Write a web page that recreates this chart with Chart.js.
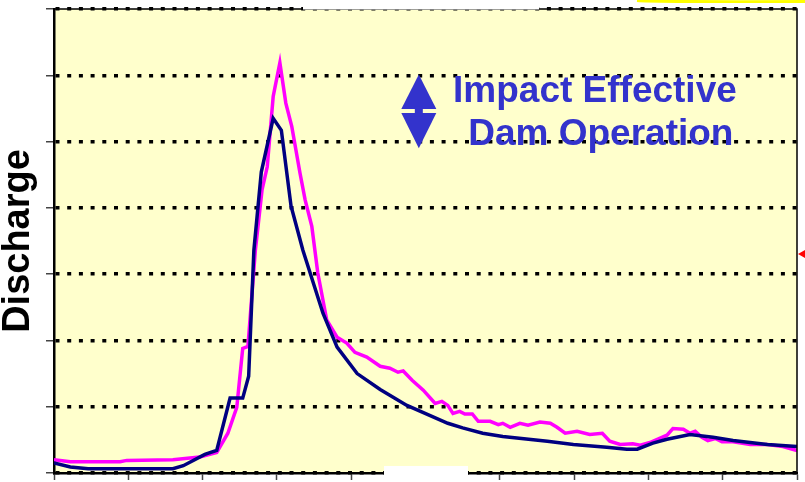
<!DOCTYPE html>
<html>
<head>
<meta charset="utf-8">
<script src="https://cdn.jsdelivr.net/npm/chart.js@4.4.1/dist/chart.umd.min.js"></script>
<style>
  html, body { margin: 0; padding: 0; background: #ffffff; }
  #wrap { width: 805px; height: 482px; position: relative; }
</style>
</head>
<body>
<div id="wrap"><canvas id="discharge"></canvas></div>
<script>
// days along the hydrograph (x axis 0..100), discharge in grid units (0..7)
const xTicks = [0, 10, 20, 30, 40, 50, 60, 70, 80, 90, 100];
const yTicks = [0, 1, 2, 3, 4, 5, 6, 7];

const regulatedX = [0, 2.2, 4.6, 16, 17.4, 20.3, 21.9, 23.7, 25.4, 26.2, 26.9, 27.9, 29.5, 30.6, 31.9,
  33.5, 36.2, 38.1, 40.8, 43.9, 47.5, 53, 55, 57.7, 60.4, 66.4, 69.9, 74.4, 77.1, 78.5, 80.6,
  82.5, 85.6, 88.7, 91.4, 96, 100];
const regulatedY = [0.15, 0.09, 0.066, 0.066, 0.11, 0.28, 0.34, 1.13, 1.13, 1.46, 3.36, 4.54, 5.35, 5.17, 4.03,
  3.36, 2.41, 1.9, 1.5, 1.26, 1.02, 0.75, 0.68, 0.6, 0.55, 0.48, 0.43, 0.39, 0.36, 0.36, 0.45,
  0.51, 0.58, 0.54, 0.49, 0.43, 0.4];

const naturalX = [0, 2.2, 8.9, 9.8, 16, 19.6, 21.9, 23.4, 24.6, 25.4, 26.1, 27.1, 28, 28.7, 29.5, 30.4,
  31.2, 32, 33.1, 33.8, 34.7, 35.5, 36.7, 38.1, 39.4, 40.5, 42.1, 43.9, 45.2, 46.3, 47, 48.2,
  49.7, 51.3, 52.2, 53, 53.7, 54.6, 55.3, 56.3, 57.1, 58.7, 59.8, 60.4, 61.4, 62.7, 63.8, 65.4,
  66.8, 67.7, 68.8, 70.4, 72.1, 73.8, 74.8, 76.2, 77.9, 78.9, 80.2, 82.5, 83.3, 84.7, 85.6, 86.3,
  87.2, 88, 89, 89.9, 91.4, 93.7, 96, 98.1, 100];
const naturalY = [0.2, 0.17, 0.17, 0.19, 0.2, 0.24, 0.31, 0.6, 0.99, 1.88, 1.91, 3.36, 4.27, 4.62, 5.68, 6.19,
  5.58, 5.23, 4.53, 4.12, 3.72, 3.02, 2.31, 2.05, 1.96, 1.82, 1.75, 1.61, 1.58, 1.52, 1.54, 1.4,
  1.25, 1.05, 1.08, 1.02, 0.9, 0.93, 0.89, 0.89, 0.78, 0.78, 0.73, 0.75, 0.69, 0.75, 0.72, 0.77,
  0.75, 0.69, 0.6, 0.63, 0.58, 0.6, 0.48, 0.43, 0.44, 0.42, 0.46, 0.57, 0.67, 0.66, 0.6, 0.63,
  0.54, 0.49, 0.52, 0.47, 0.47, 0.43, 0.43, 0.4, 0.34];

const annotationLines = ['Impact Effective', 'Dam Operation'];

function toPoints(xs, ys) {
  return xs.map((x, i) => ({ x: x, y: ys[i] }));
}

const FONT = "'Liberation Sans', Arial, sans-serif";
const BLUE = '#3333cc';

// plot background, frame, annotation and the cut-off bits of the slide
const decorations = {
  id: 'decorations',
  beforeDraw(chart) {
    const { ctx, chartArea: a } = chart;
    ctx.save();
    ctx.fillStyle = '#ffffcc';
    ctx.fillRect(a.left, a.top, a.right - a.left, a.bottom - a.top);
    ctx.restore();
  },
  afterDatasetsDraw(chart) {
    const { ctx, chartArea: a, scales } = chart;
    const sx = scales.x, sy = scales.y;
    ctx.save();
    // frame top and right
    ctx.strokeStyle = '#000';
    ctx.lineWidth = 1.5;
    ctx.beginPath();
    ctx.moveTo(a.left, a.top);
    ctx.lineTo(a.right, a.top);
    ctx.lineTo(a.right, a.bottom);
    ctx.stroke();

    // double headed arrow
    const ax = sx.getPixelForValue(49.1);
    const hw = 17.5;
    const yTop = sy.getPixelForValue(6.01), yMidA = sy.getPixelForValue(5.49);
    const yMidB = sy.getPixelForValue(5.43), yBot = sy.getPixelForValue(4.9);
    ctx.fillStyle = BLUE;
    ctx.beginPath();
    ctx.moveTo(ax, yTop); ctx.lineTo(ax + hw, yMidA); ctx.lineTo(ax - hw, yMidA); ctx.closePath();
    ctx.fill();
    ctx.beginPath();
    ctx.moveTo(ax, yBot); ctx.lineTo(ax + hw, yMidB); ctx.lineTo(ax - hw, yMidB); ctx.closePath();
    ctx.fill();
    ctx.fillRect(ax - 4, yMidA - 3, 8, yMidB - yMidA + 6);

    // annotation text
    ctx.font = 'bold 37px ' + FONT;
    ctx.textAlign = 'center';
    ctx.textBaseline = 'alphabetic';
    ctx.fillText(annotationLines[0], sx.getPixelForValue(72.8), sy.getPixelForValue(5.6));
    ctx.fillText(annotationLines[1], sx.getPixelForValue(73.6), sy.getPixelForValue(4.95));
    ctx.restore();
  },
  afterDraw(chart) {
    const { ctx } = chart;
    ctx.save();
    ctx.fillStyle = '#ffffff';
    ctx.fillRect(303, 0, 236, 9.5);
    ctx.fillRect(384, 466, 84, 16);
    ctx.strokeStyle = '#ffff00';
    ctx.lineWidth = 3;
    ctx.beginPath();
    ctx.moveTo(637, 0.5);
    ctx.quadraticCurveTo(660, 2, 805, 1.5);
    ctx.stroke();
    ctx.fillStyle = '#ff0000';
    ctx.beginPath();
    ctx.moveTo(798, 254); ctx.lineTo(805, 250); ctx.lineTo(805, 258); ctx.closePath();
    ctx.fill();
    ctx.restore();
  }
};

new Chart(document.getElementById('discharge').getContext('2d'), {
  type: 'line',
  data: {
    datasets: [
      {
        label: 'Regulated',
        data: toPoints(regulatedX, regulatedY),
        borderColor: '#000080',
        borderWidth: 3.5,
        pointRadius: 0,
        tension: 0,
        fill: false
      },
      {
        label: 'Natural',
        data: toPoints(naturalX, naturalY),
        borderColor: '#ff00ff',
        borderWidth: 3.5,
        pointRadius: 0,
        tension: 0,
        fill: false
      }
    ]
  },
  options: {
    responsive: true,
    maintainAspectRatio: false,
    animation: false,
    layout: { padding: { top: 9, right: 8, left: 0, bottom: 0 } },
    plugins: {
      legend: { display: false },
      tooltip: { enabled: false }
    },
    scales: {
      x: {
        type: 'linear',
        min: xTicks[0],
        max: xTicks[xTicks.length - 1],
        afterBuildTicks: (scale) => { scale.ticks = xTicks.map(v => ({ value: v })); },
        afterFit: (scale) => { scale.height = 9; },
        ticks: { display: false },
        grid: {
          drawOnChartArea: false,
          drawTicks: true,
          tickLength: 7,
          tickColor: '#444',
          tickWidth: 1.5
        },
        border: { color: '#000', width: 2.5 }
      },
      y: {
        min: yTicks[0],
        max: yTicks[yTicks.length - 1],
        afterBuildTicks: (scale) => { scale.ticks = yTicks.map(v => ({ value: v })); },
        afterFit: (scale) => { scale.width = 54; },
        ticks: { display: false },
        grid: {
          color: '#000',
          lineWidth: 3.5,
          drawTicks: true,
          tickLength: 8,
          tickColor: '#444',
          tickWidth: 1.5,
          tickBorderDash: []
        },
        border: { color: '#000', width: 2.5, dash: [4, 7.7] },
        title: {
          display: true,
          text: 'Discharge',
          color: '#000',
          font: { family: FONT, size: 38, weight: 'bold', lineHeight: 1.0 },
          padding: { top: 0, bottom: 0 }
        }
      }
    }
  },
  plugins: [decorations]
});
</script>
</body>
</html>
